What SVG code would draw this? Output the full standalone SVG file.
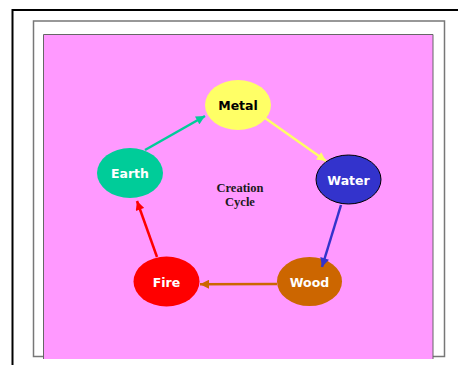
<svg xmlns="http://www.w3.org/2000/svg" width="458" height="365" viewBox="0 0 458 365">
<style>
.lbl{font-family:"DejaVu Sans",Verdana,sans-serif;font-weight:bold;font-size:12.5px;text-anchor:middle}
.cap{font-family:"Liberation Serif","Times New Roman",serif;font-weight:bold;font-size:12.5px;text-anchor:middle;fill:#1a1a1a}
.c{stroke-width:2.5;fill:none}
</style>
<defs>
<marker id="mTeal" viewBox="0 0 10 10" refX="10" refY="5" markerWidth="4" markerHeight="3.6" orient="auto" markerUnits="strokeWidth"><path d="M0,0L10,5L0,10z" fill="#00CC99"/></marker>
<marker id="mYel" viewBox="0 0 10 10" refX="10" refY="5" markerWidth="4" markerHeight="3.6" orient="auto" markerUnits="strokeWidth"><path d="M0,0L10,5L0,10z" fill="#FFFF66"/></marker>
<marker id="mBlue" viewBox="0 0 10 10" refX="10" refY="5" markerWidth="4" markerHeight="3.6" orient="auto" markerUnits="strokeWidth"><path d="M0,0L10,5L0,10z" fill="#3333CC"/></marker>
<marker id="mOr" viewBox="0 0 10 10" refX="10" refY="5" markerWidth="4" markerHeight="3.6" orient="auto" markerUnits="strokeWidth"><path d="M0,0L10,5L0,10z" fill="#CC6600"/></marker>
<marker id="mRed" viewBox="0 0 10 10" refX="10" refY="5" markerWidth="4" markerHeight="3.6" orient="auto" markerUnits="strokeWidth"><path d="M0,0L10,5L0,10z" fill="#FF0000"/></marker>
</defs>
<rect width="458" height="365" fill="#fff"/>
<path d="M12.5,365V10H458" fill="none" stroke="#000" stroke-width="2"/>
<rect x="33.5" y="21" width="411" height="335.5" fill="#fff" stroke="#777" stroke-width="1.5"/>
<path d="M43.5,359V34.5H433V359" fill="#FF99FF" stroke="#666" stroke-width="1"/>
<g id="metal"><ellipse cx="238" cy="105" rx="33" ry="25" fill="#FFFF66"/><text class="lbl" x="238" y="110" fill="#000">Metal</text></g>
<g id="earth"><ellipse cx="130" cy="173" rx="33" ry="25" fill="#00CC99"/><text class="lbl" x="130" y="178" fill="#fff">Earth</text></g>
<g id="water"><ellipse cx="348.5" cy="179.5" rx="32.5" ry="24.5" fill="#3333CC" stroke="#000" stroke-width="1"/><text class="lbl" x="348.5" y="184.5" fill="#fff">Water</text></g>
<g id="wood"><ellipse cx="309.5" cy="281.5" rx="32.5" ry="24.5" fill="#CC6600"/><text class="lbl" x="309.5" y="286.5" fill="#fff">Wood</text></g>
<g id="fire"><ellipse cx="166.5" cy="281.5" rx="33" ry="25" fill="#FF0000"/><text class="lbl" x="166.5" y="286.5" fill="#fff">Fire</text></g>
<g id="connectors">
<line class="c" x1="145" y1="150" x2="205" y2="116" stroke="#00CC99" marker-end="url(#mTeal)"/>
<line class="c" x1="265" y1="118" x2="326" y2="161" stroke="#FFFF66" marker-end="url(#mYel)"/>
<line class="c" x1="341" y1="205" x2="322" y2="267" stroke="#3333CC" marker-end="url(#mBlue)"/>
<line class="c" x1="277" y1="284" x2="200" y2="284.3" stroke="#CC6600" marker-end="url(#mOr)"/>
<line class="c" x1="157" y1="257" x2="137" y2="201" stroke="#FF0000" marker-end="url(#mRed)"/>
</g>
<g id="caption"><text class="cap" x="240" y="191.5">Creation</text><text class="cap" x="240" y="206">Cycle</text></g>
</svg>
